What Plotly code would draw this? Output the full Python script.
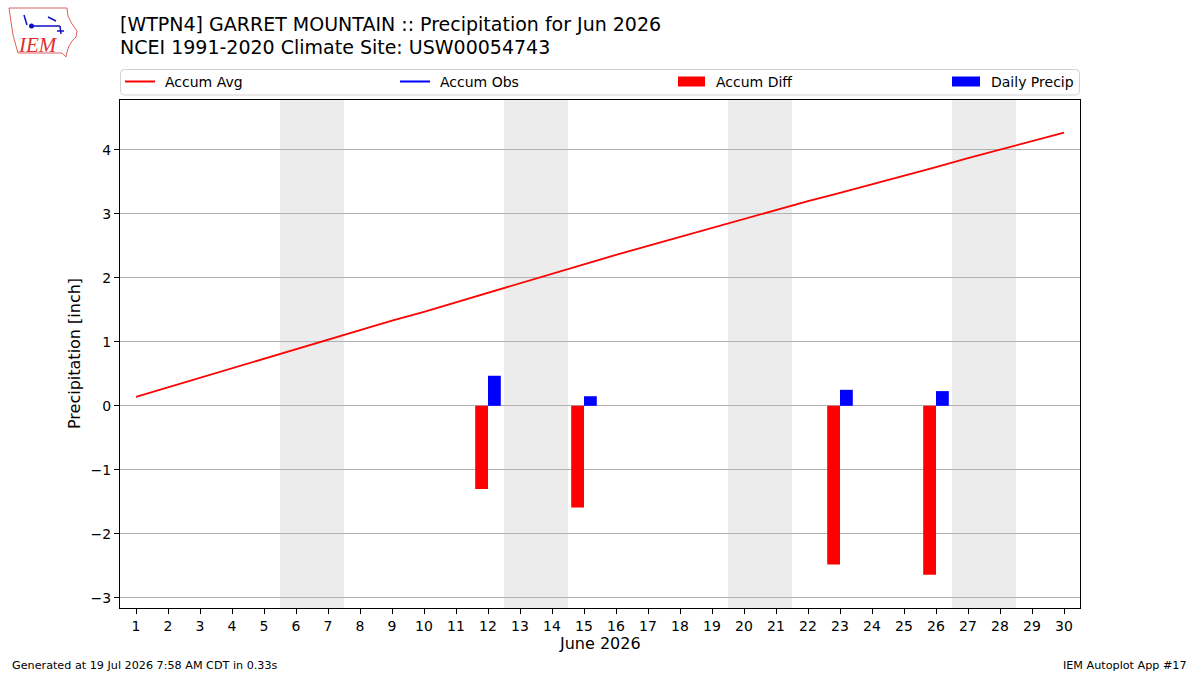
import plotly.graph_objects as go

# ---- data ----
days = list(range(1, 31))
accum_avg = [0.14, 0.29, 0.44, 0.59, 0.74, 0.89, 1.04, 1.18, 1.33, 1.47,
             1.62, 1.77, 1.92, 2.07, 2.22, 2.36, 2.50, 2.64, 2.79, 2.93,
             3.07, 3.20, 3.33, 3.46, 3.60, 3.73, 3.87, 4.00, 4.13, 4.27]
accum_obs = [None] * 30
precip_days = [12, 15, 23, 26]
daily_precip = [0.47, 0.15, 0.25, 0.23]
accum_diff = [-1.30, -1.59, -2.48, -2.64]
weekends = [(5.5, 7.5), (12.5, 14.5), (19.5, 21.5), (26.5, 28.5)]
yticks = [-3, -2, -1, 0, 1, 2, 3, 4]

title_l1 = "[WTPN4] GARRET MOUNTAIN :: Precipitation for Jun 2026"
title_l2 = "NCEI 1991-2020 Climate Site: USW00054743"
footer_l = "Generated at 19 Jul 2026 7:58 AM CDT in 0.33s"
footer_r = "IEM Autoplot App #17"

FONT = "DejaVu Sans"
W, H = 1200, 675
ML, MR, MT, MB = 120, 120, 100, 67
PW, PH = W - ML - MR, H - MT - MB


def px(x):
    return (x - ML) / PW


def py(y):
    return (H - MB - y) / PH


fig = go.Figure()

fig.add_trace(go.Bar(x=precip_days, y=accum_diff, name="Accum Diff", width=0.4, offset=-0.4,
                     marker=dict(color="#ff0000", line=dict(width=0))))
fig.add_trace(go.Bar(x=precip_days, y=daily_precip, name="Daily Precip", width=0.4, offset=0,
                     marker=dict(color="#0000ff", line=dict(width=0))))
fig.add_trace(go.Scatter(x=days, y=accum_avg, mode="lines", name="Accum Avg",
                         line=dict(color="#ff0000", width=1.8)))
fig.add_trace(go.Scatter(x=days, y=accum_obs, mode="lines", name="Accum Obs",
                         line=dict(color="#0000ff", width=1.8)))

shapes = []
for a, b in weekends:
    shapes.append(dict(type="rect", xref="x", yref="paper", x0=a, x1=b, y0=0, y1=1,
                       fillcolor="#ececec", line=dict(width=0), layer="below"))

# legend box (rounded)
x0, x1, y0, y1, r = px(120.5), px(1079.5), py(95), py(69.5), 4
rx, ry = r / PW, r / PH
path = (f"M {x0+rx},{y1} L {x1-rx},{y1} Q {x1},{y1} {x1},{y1-ry} L {x1},{y0+ry} "
        f"Q {x1},{y0} {x1-rx},{y0} L {x0+rx},{y0} Q {x0},{y0} {x0},{y0+ry} "
        f"L {x0},{y1-ry} Q {x0},{y1} {x0+rx},{y1} Z")
shapes.append(dict(type="path", xref="paper", yref="paper", path=path,
                   line=dict(color="#d0d0d0", width=1), fillcolor="rgba(255,255,255,0.8)"))

annotations = []
legend_items = [
    ("line", "#ff0000", "Accum Avg", 125, 155, 165),
    ("line", "#0000ff", "Accum Obs", 400, 430, 440),
    ("rect", "#ff0000", "Accum Diff", 678, 705, 716),
    ("rect", "#0000ff", "Daily Precip", 952, 980, 991),
]
ly = 81.5
for kind, col, label, a, b, tx in legend_items:
    if kind == "line":
        shapes.append(dict(type="line", xref="paper", yref="paper", x0=px(a), x1=px(b),
                           y0=py(ly), y1=py(ly), line=dict(color=col, width=2)))
    else:
        shapes.append(dict(type="rect", xref="paper", yref="paper", x0=px(a), x1=px(b),
                           y0=py(ly + 5), y1=py(ly - 5), fillcolor=col, line=dict(width=0)))
    annotations.append(dict(xref="paper", yref="paper", x=px(tx - 2), y=py(ly), text=label,
                            showarrow=False, xanchor="left", yanchor="middle",
                            font=dict(family=FONT, size=14, color="black")))

# titles
annotations.append(dict(xref="paper", yref="paper", x=px(118), y=py(24), text=title_l1,
                        showarrow=False, xanchor="left", yanchor="middle",
                        font=dict(family=FONT, size=19, color="black")))
annotations.append(dict(xref="paper", yref="paper", x=px(118), y=py(47), text=title_l2,
                        showarrow=False, xanchor="left", yanchor="middle",
                        font=dict(family=FONT, size=19, color="black")))
# footer
annotations.append(dict(xref="paper", yref="paper", x=px(10), y=py(665), text=footer_l,
                        showarrow=False, xanchor="left", yanchor="middle",
                        font=dict(family=FONT, size=11.2, color="black")))
annotations.append(dict(xref="paper", yref="paper", x=px(1189), y=py(665), text=footer_r,
                        showarrow=False, xanchor="right", yanchor="middle",
                        font=dict(family=FONT, size=11.2, color="black")))

# logo approximation
iowa = [(9, 8), (67, 8), (68, 16), (72, 24), (77, 31), (76, 37), (72, 41), (69, 46),
        (67, 52), (66, 57), (62, 53), (18, 53), (16, 46), (13, 35), (11, 22), (9, 8)]
lp = "M " + " L ".join(f"{px(a)},{py(b)}" for a, b in iowa) + " Z"
shapes.append(dict(type="path", xref="paper", yref="paper", path=lp,
                   line=dict(color="#e06060", width=1)))
for (a, b, c, d) in [(31, 26, 60, 26), (60, 26, 61, 34), (48, 17, 56, 21), (24, 15, 27, 25),
                     (57, 31, 64, 31)]:
    shapes.append(dict(type="line", xref="paper", yref="paper", x0=px(a), y0=py(b),
                       x1=px(c), y1=py(d), line=dict(color="#1010c0", width=1.5)))
shapes.append(dict(type="circle", xref="paper", yref="paper", x0=px(29), x1=px(34),
                   y0=py(28.5), y1=py(23.5), fillcolor="#1010c0", line=dict(width=0)))
annotations.append(dict(xref="paper", yref="paper", x=px(38), y=py(45), text="<i>IEM</i>",
                        showarrow=False, xanchor="center", yanchor="middle",
                        font=dict(family="Liberation Serif", size=21, color="#e03030")))

# axis titles
annotations.append(dict(xref="paper", yref="paper", x=px(600), y=py(643), text="June 2026",
                        showarrow=False, xanchor="center", yanchor="middle",
                        font=dict(family=FONT, size=16, color="black")))
annotations.append(dict(xref="paper", yref="paper", x=px(74), y=py(354),
                        text="Precipitation [inch]", textangle=-90,
                        showarrow=False, xanchor="center", yanchor="middle",
                        font=dict(family=FONT, size=16, color="black")))

fig.update_layout(
    width=W, height=H,
    margin=dict(l=ML, r=MR, t=MT, b=MB, autoexpand=False),
    paper_bgcolor="white", plot_bgcolor="white",
    showlegend=False,
    barmode="overlay",
    shapes=shapes, annotations=annotations,
    font=dict(family=FONT, size=14, color="black"),
)
fig.update_xaxes(range=[0.5, 30.5], tickmode="array", tickvals=days,
                 ticks="outside", ticklen=5, tickcolor="black", showgrid=False,
                 showline=True, linecolor="black", linewidth=1, mirror=True,
                 zeroline=False, tickfont=dict(family=FONT, size=14, color="black"))
fig.update_yaxes(range=[-3.16, 4.78], tickmode="array", tickvals=yticks,
                 ticks="outside", ticklen=5, tickcolor="black", showgrid=True,
                 gridcolor="#b0b0b0", gridwidth=1,
                 showline=True, linecolor="black", linewidth=1, mirror=True,
                 zeroline=False, tickfont=dict(family=FONT, size=14, color="black"))

fig.write_html("out.html")
